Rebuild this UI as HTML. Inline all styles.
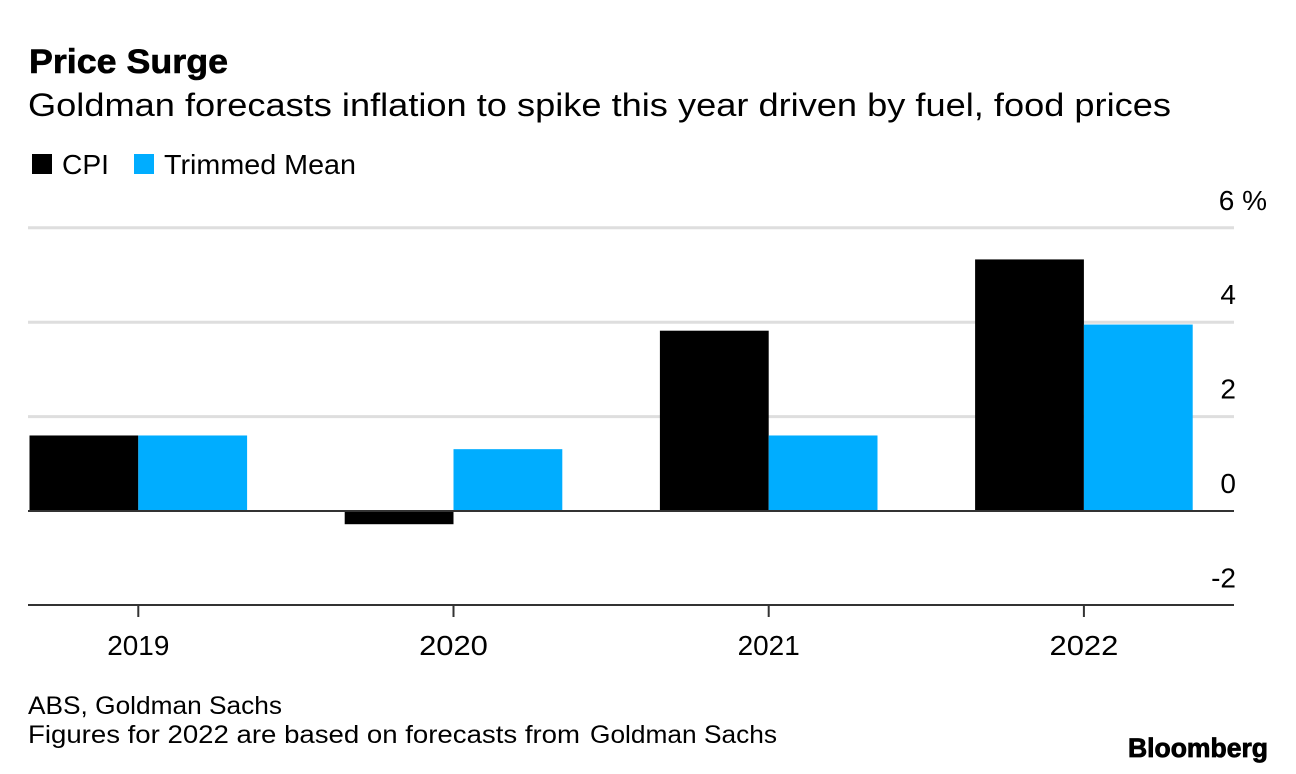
<!DOCTYPE html>
<html>
<head>
<meta charset="utf-8">
<style>
html,body{margin:0;padding:0;background:#fff;}
body{width:1296px;height:774px;overflow:hidden;position:relative;font-family:"Liberation Sans",sans-serif;color:#000;}
svg{position:absolute;left:0;top:0;}
text{font-family:"Liberation Sans",sans-serif;fill:#000;}
</style>
</head>
<body>
<svg id="chart" width="1296" height="774" viewBox="0 0 1296 774">
<text x="29" y="73" font-size="34" font-weight="700" stroke="#000" stroke-width="0.6" textLength="199" lengthAdjust="spacingAndGlyphs">Price Surge</text>
<text x="28" y="116" font-size="32" textLength="1143" lengthAdjust="spacingAndGlyphs">Goldman forecasts inflation to spike this year driven by fuel, food prices</text>
<rect x="32" y="154" width="20" height="20" fill="#000"/>
<text x="62" y="174" font-size="28" textLength="47" lengthAdjust="spacingAndGlyphs">CPI</text>
<rect x="134" y="154" width="20" height="20" fill="#00adff"/>
<text x="164" y="174" font-size="28" textLength="192" lengthAdjust="spacingAndGlyphs">Trimmed Mean</text>
<g id="grid"></g>
<g id="bars"></g>
<g id="axes"></g>
<text x="28" y="714" font-size="25" textLength="254" lengthAdjust="spacingAndGlyphs">ABS, Goldman Sachs</text>
<text x="28" y="743" font-size="25"><tspan textLength="552" lengthAdjust="spacingAndGlyphs">Figures for 2022 are based on forecasts from</tspan> <tspan x="590" textLength="187" lengthAdjust="spacingAndGlyphs">Goldman Sachs</tspan></text>
<text x="1128" y="757" font-size="27" font-weight="700" stroke="#000" stroke-width="0.8" textLength="140" lengthAdjust="spacingAndGlyphs">Bloomberg</text>
</svg>
<script>
const categories = ["2019", "2020", "2021", "2022"];
const cpiValues = [1.6, -0.28, 3.82, 5.33];
const trimmedMeanValues = [1.6, 1.31, 1.6, 3.95];
const yTicks = [6, 4, 2, 0, -2];
const yTickLabels = ["6 %", "4", "2", "0", "-2"];

const NS = "http://www.w3.org/2000/svg";
const plotLeft = 28, plotRight = 1234;
const yZero = 511, yPerUnit = 47.2;
const barWidth = 108.8;
const xFirst = 138.3, xStep = 315.2;
function yScale(v) { return yZero - v * yPerUnit; }
function xScale(i) { return xFirst + i * xStep; }
function labelWidth(s) {
  let w = 0;
  for (const ch of s) w += ch === "1" ? 10.5 : 17.2;
  return w;
}
function make(tag, attrs, parent) {
  const el = document.createElementNS(NS, tag);
  for (const k in attrs) el.setAttribute(k, attrs[k]);
  parent.appendChild(el);
  return el;
}
const grid = document.getElementById("grid");
const bars = document.getElementById("bars");
const axes = document.getElementById("axes");

yTicks.forEach(function (t, i) {
  const y = yScale(t);
  if (t > 0) {
    const line = make("line", {x1: plotLeft, x2: plotRight, y1: y, y2: y, stroke: "#dedede", "stroke-width": 3}, grid);
    
    
  }
  const label = make("text", {x: 1267, y: y - 18, "font-size": 28, "text-anchor": "end"}, axes);
  if (t !== 6) { label.setAttribute("x", 1236); }
  label.textContent = yTickLabels[i];
  
  
});

function addBar(value, x, color, name) {
  const top = Math.min(yScale(value), yZero);
  const h = Math.abs(yScale(value) - yZero);
  const r = make("rect", {x: x, y: top, width: barWidth, height: h, fill: color}, bars);
  
  
}
categories.forEach(function (c, i) {
  const cx = xScale(i);
  addBar(cpiValues[i], cx - barWidth, "#000", "bar-cpi-" + c);
  addBar(trimmedMeanValues[i], cx, "#00adff", "bar-trimmed-mean-" + c);
  const tick = make("line", {x1: cx, x2: cx, y1: 605, y2: 617, stroke: "#333", "stroke-width": 2}, axes);
  
  
  const label = make("text", {x: cx, y: 655, "font-size": 28, "text-anchor": "middle", textLength: labelWidth(c), lengthAdjust: "spacingAndGlyphs"}, axes);
  label.textContent = c;
  
  
});

const zero = make("line", {x1: plotLeft, x2: plotRight, y1: yZero, y2: yZero, stroke: "#333", "stroke-width": 2}, axes);


const base = make("line", {x1: plotLeft, x2: plotRight, y1: 605, y2: 605, stroke: "#333", "stroke-width": 2}, axes);


</script>
</body>
</html>
